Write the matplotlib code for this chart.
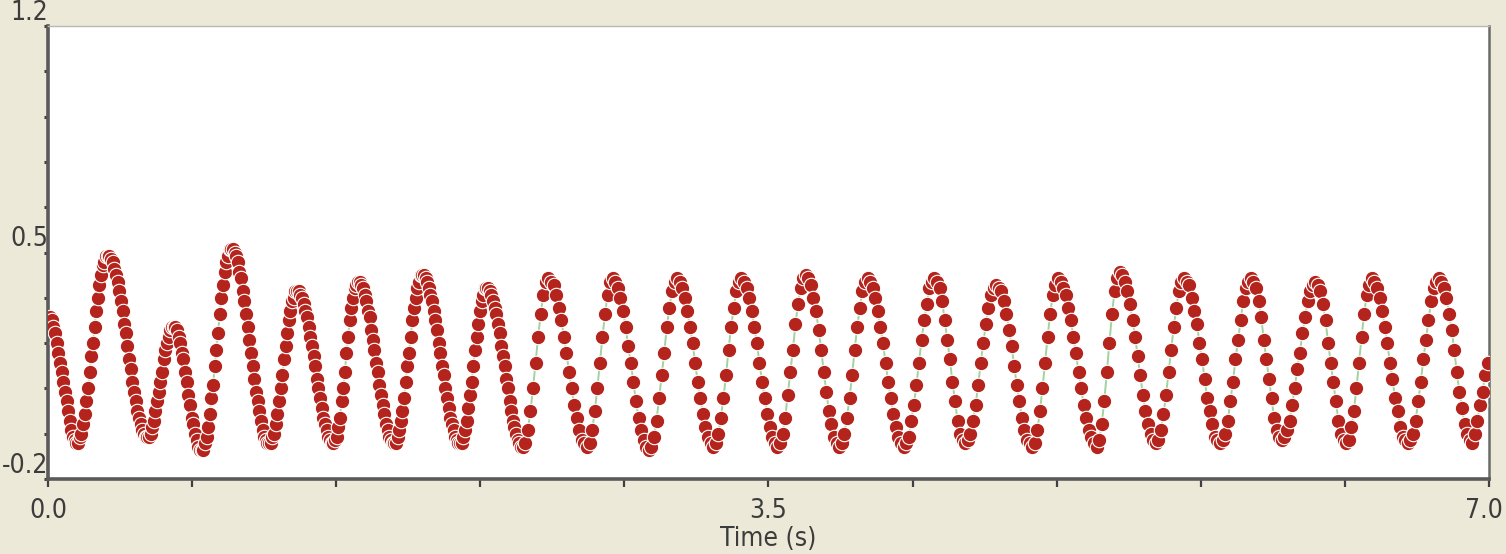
import numpy as np
import matplotlib
matplotlib.use('Agg')
import matplotlib.pyplot as plt

dt_early = 0.008
t_start = 0.01
values_early = [
    0.30, 0.29, 0.27, 0.25, 0.22, 0.19, 0.16, 0.13, 0.10, 0.07, 0.04, 0.01, -0.02, -0.05, -0.07, -0.08, -0.09,
    -0.09, -0.07, -0.06, -0.03, 0.00, 0.04, 0.08, 0.13, 0.18, 0.22, 0.27, 0.32, 0.36, 0.40, 0.43, 0.46, 0.47, 0.49, 0.49,
    0.49, 0.48, 0.47, 0.45, 0.43, 0.41, 0.38, 0.35, 0.32, 0.28, 0.25, 0.21, 0.17, 0.14, 0.10, 0.07, 0.04, 0.01, -0.01, -0.03, -0.05, -0.06, -0.07, -0.07,
    -0.07, -0.06, -0.04, -0.02, 0.01, 0.04, 0.07, 0.10, 0.13, 0.17, 0.20, 0.22, 0.24, 0.26, 0.27, 0.27,
    0.27, 0.26, 0.24, 0.22, 0.19, 0.17, 0.13, 0.10, 0.06, 0.03, -0.01, -0.03, -0.06, -0.08, -0.10, -0.11, -0.11,
    -0.11, -0.09, -0.07, -0.04, 0.00, 0.05, 0.09, 0.15, 0.20, 0.25, 0.31, 0.36, 0.40, 0.44, 0.47, 0.49, 0.51, 0.51,
    0.51, 0.50, 0.49, 0.47, 0.44, 0.42, 0.38, 0.35, 0.31, 0.27, 0.23, 0.19, 0.15, 0.11, 0.07, 0.04, 0.01, -0.02, -0.05, -0.07, -0.08, -0.09, -0.09,
    -0.09, -0.07, -0.06, -0.03, 0.00, 0.04, 0.08, 0.12, 0.17, 0.21, 0.25, 0.29, 0.32, 0.35, 0.36, 0.38, 0.38,
    0.38, 0.37, 0.36, 0.34, 0.32, 0.30, 0.27, 0.24, 0.21, 0.18, 0.15, 0.11, 0.08, 0.05, 0.02, -0.01, -0.03, -0.05, -0.07, -0.08, -0.09, -0.09,
    -0.08, -0.07, -0.04, -0.01, 0.04, 0.08, 0.13, 0.19, 0.24, 0.29, 0.33, 0.36, 0.39, 0.40, 0.41,
    0.41, 0.40, 0.39, 0.37, 0.35, 0.32, 0.30, 0.26, 0.23, 0.20, 0.16, 0.13, 0.09, 0.06, 0.03, 0.00, -0.03, -0.05, -0.07, -0.08, -0.09, -0.09,
    -0.09, -0.07, -0.05, -0.02, 0.01, 0.05, 0.10, 0.15, 0.19, 0.24, 0.29, 0.33, 0.36, 0.39, 0.41, 0.43, 0.43,
    0.43, 0.42, 0.41, 0.39, 0.37, 0.35, 0.32, 0.29, 0.26, 0.22, 0.19, 0.15, 0.12, 0.08, 0.05, 0.02, -0.01, -0.03, -0.05, -0.07, -0.08, -0.09, -0.09,
    -0.09, -0.07, -0.05, -0.02, 0.02, 0.06, 0.10, 0.15, 0.20, 0.24, 0.28, 0.32, 0.35, 0.37, 0.39, 0.39,
    0.39, 0.38, 0.37, 0.35, 0.33, 0.31, 0.28, 0.25, 0.21, 0.18, 0.15, 0.11, 0.08, 0.04, 0.01, -0.02, -0.04, -0.06, -0.08, -0.09, -0.10, -0.10,
]

# second part, sampled every 12.5 ms
dt_late = 0.0125
values_late = [
    -0.09, -0.05, 0.01, 0.08, 0.16, 0.24, 0.31, 0.37, 0.41, 0.42,
    0.41, 0.40, 0.37, 0.33, 0.29, 0.24, 0.19, 0.13, 0.08, 0.03, -0.01, -0.05, -0.08, -0.09, -0.10,
    -0.09, -0.05, 0.01, 0.08, 0.16, 0.24, 0.31, 0.37, 0.41, 0.42,
    0.41, 0.39, 0.36, 0.32, 0.27, 0.21, 0.16, 0.10, 0.04, -0.01, -0.05, -0.08, -0.10, -0.11,
    -0.10, -0.07, -0.02, 0.05, 0.12, 0.19, 0.27, 0.33, 0.38, 0.41, 0.42,
    0.41, 0.39, 0.36, 0.32, 0.27, 0.22, 0.16, 0.10, 0.05, 0.00, -0.04, -0.07, -0.09, -0.10,
    -0.09, -0.06, -0.01, 0.05, 0.12, 0.20, 0.27, 0.33, 0.38, 0.41, 0.42,
    0.41, 0.39, 0.36, 0.32, 0.27, 0.22, 0.16, 0.10, 0.05, 0.00, -0.04, -0.07, -0.09, -0.10,
    -0.09, -0.06, -0.01, 0.06, 0.13, 0.20, 0.28, 0.34, 0.39, 0.42, 0.43,
    0.42, 0.40, 0.36, 0.32, 0.26, 0.20, 0.13, 0.07, 0.01, -0.03, -0.07, -0.09, -0.10,
    -0.09, -0.06, -0.01, 0.05, 0.12, 0.20, 0.27, 0.33, 0.38, 0.41, 0.42,
    0.41, 0.39, 0.36, 0.32, 0.27, 0.22, 0.16, 0.10, 0.05, 0.00, -0.04, -0.07, -0.09, -0.10,
    -0.09, -0.07, -0.02, 0.03, 0.09, 0.16, 0.23, 0.29, 0.34, 0.39, 0.41, 0.42,
    0.41, 0.39, 0.35, 0.29, 0.23, 0.17, 0.10, 0.04, -0.02, -0.06, -0.08, -0.09,
    -0.08, -0.06, -0.02, 0.03, 0.09, 0.16, 0.22, 0.28, 0.33, 0.37, 0.39, 0.40,
    0.39, 0.38, 0.35, 0.31, 0.26, 0.21, 0.15, 0.09, 0.04, -0.01, -0.05, -0.08, -0.09, -0.10,
    -0.09, -0.05, 0.01, 0.08, 0.16, 0.24, 0.31, 0.37, 0.40, 0.42,
    0.41, 0.39, 0.37, 0.33, 0.29, 0.24, 0.19, 0.13, 0.08, 0.03, -0.01, -0.05, -0.07, -0.09, -0.10,
    -0.08, -0.03, 0.04, 0.13, 0.22, 0.31, 0.38, 0.42, 0.44,
    0.43, 0.41, 0.38, 0.34, 0.29, 0.24, 0.18, 0.12, 0.06, 0.01, -0.03, -0.06, -0.08, -0.09,
    -0.08, -0.05, 0.00, 0.06, 0.13, 0.20, 0.27, 0.33, 0.38, 0.41, 0.42,
    0.41, 0.40, 0.36, 0.32, 0.28, 0.22, 0.17, 0.11, 0.05, 0.01, -0.03, -0.07, -0.08, -0.09,
    -0.08, -0.06, -0.02, 0.04, 0.10, 0.17, 0.23, 0.29, 0.35, 0.39, 0.41, 0.42,
    0.41, 0.39, 0.35, 0.30, 0.23, 0.17, 0.11, 0.05, -0.01, -0.05, -0.07, -0.08,
    -0.07, -0.05, -0.02, 0.03, 0.08, 0.14, 0.19, 0.25, 0.30, 0.35, 0.38, 0.40, 0.41,
    0.40, 0.38, 0.34, 0.29, 0.22, 0.16, 0.10, 0.04, -0.02, -0.06, -0.08, -0.09,
    -0.08, -0.04, 0.01, 0.08, 0.16, 0.24, 0.31, 0.37, 0.40, 0.42,
    0.41, 0.39, 0.36, 0.32, 0.27, 0.22, 0.16, 0.11, 0.05, 0.01, -0.04, -0.07, -0.08, -0.09,
    -0.08, -0.06, -0.02, 0.04, 0.10, 0.17, 0.23, 0.29, 0.35, 0.39, 0.41, 0.42,
    0.41, 0.39, 0.36, 0.31, 0.26, 0.20, 0.13, 0.07, 0.02, -0.03, -0.06, -0.08, -0.09,
    -0.06, -0.02, 0.03, 0.07, 0.12, 0.16,
]

x_ticks = [0.0, 0.7, 1.4, 2.1, 2.8, 3.5, 4.2, 4.9, 5.6, 6.3, 7.0]
x_tick_labels = ['0.0', '', '', '', '', '3.5', '', '', '', '', '']
y_ticks = [-0.2, -0.06, 0.08, 0.22, 0.36, 0.5, 0.64, 0.78, 0.92, 1.06, 1.2]
y_tick_labels = ['-0.2', '', '', '', '', '0.5', '', '', '', '', '1.2']

t_early = t_start + dt_early * np.arange(len(values_early))
t_late = t_early[-1] + dt_late * np.arange(1, len(values_late) + 1)
t = np.concatenate([t_early, t_late])
y = np.concatenate([values_early, values_late])

plt.rcParams['font.family'] = ['DejaVu Sans']
plt.rcParams['font.stretch'] = 'condensed'
text_color = '#3c3c3c'
bg = '#ECE9D8'
fs = 19

W, H = 1506, 554
fig = plt.figure(figsize=(W / 100, H / 100), dpi=100, facecolor=bg)
left, right, top, bottom = 48, 1489, 26, 479
ax = fig.add_axes([left / W, 1 - bottom / H, (right - left) / W, (bottom - top) / H])
ax.set_facecolor('white')

ax.plot(t, y, '-', color='#9fd39f', lw=1.4, zorder=2)
ax.plot(t, y, 'o', ls='none', ms=10.4, mfc='#B5241C', mec='white', mew=0.8, zorder=3)

ax.set_xlim(0, 7)
ax.set_ylim(-0.2, 1.2)

ax.set_xticks(x_ticks)
ax.set_xticklabels(x_tick_labels)
ax.set_yticks(y_ticks)
ax.set_yticklabels(y_tick_labels)
for lbl in ax.get_yticklabels():
    lbl.set_va('bottom')

ax.tick_params(axis='x', direction='out', length=6, width=1.6, color='#404040',
               labelsize=fs, labelcolor=text_color, pad=8)
ax.tick_params(axis='y', direction='out', length=3, width=2.2, color='#404040',
               labelsize=fs, labelcolor=text_color, pad=-3)

# last x label sits against the right edge of the image
ax.annotate('7.0', xy=(7.0, 0), xycoords=('data', 'axes fraction'), xytext=(-4, -14),
            textcoords='offset points', ha='center', va='top', fontsize=fs, color=text_color)

for side in ['left', 'bottom']:
    ax.spines[side].set_color('#5a5a5a')
    ax.spines[side].set_linewidth(2.6)
ax.spines['right'].set_color('#6a6a6a')
ax.spines['right'].set_linewidth(1.8)
ax.spines['top'].set_color('#b8b8b8')
ax.spines['top'].set_linewidth(1.0)

fig.text(768 / W, 1 - 526 / H, 'Time (s)', ha='center', va='top', fontsize=fs, color=text_color)

fig.savefig('out.png', dpi=100, facecolor=bg)
